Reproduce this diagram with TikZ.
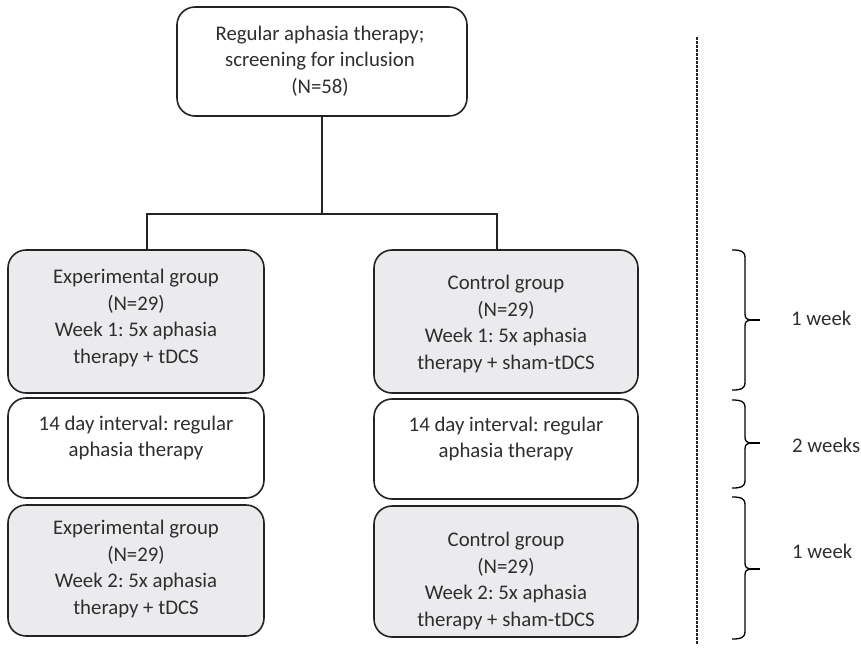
\documentclass[tikz,border=0pt]{standalone}
\usepackage{fontspec}
\setmainfont{Carlito}
\frenchspacing
\definecolor{boxgray}{RGB}{235,235,238}
\definecolor{linegray}{RGB}{35,35,35}
\begin{document}
\begin{tikzpicture}[x=1pt,y=-1pt,
  box/.style={draw=linegray,line width=1.6pt,rounded corners=18pt,minimum width=#1,inner sep=0pt},
  graybox/.style={box=#1,fill=boxgray},
  whitebox/.style={box=#1,fill=white},
  txt/.style={align=center,font=\fontsize{20.8}{26.5}\selectfont,inner sep=0pt,text=black!82},
  conn/.style={draw=linegray,line width=1.1pt},
  bracestyle/.style={draw=black,line width=1.3pt},
  lbl/.style={anchor=west,font=\fontsize{20.8}{24}\selectfont,inner sep=0pt,text=black!82}]
\useasboundingbox (0,0) rectangle (861,649);

% boxes
\node[whitebox=290pt,minimum height=109pt] (top) at (322,61.5) {};
\node[txt] (toptxt) at (320,61) {Regular aphasia therapy;\\screening for inclusion\\(N=58)};

\node[graybox=256pt,minimum height=143pt] (exp1) at (136,321.5) {};
\node[txt] (exp1txt) at (136,318) {Experimental group\\(N=29)\\Week 1: 5x aphasia\\therapy + tDCS};

\node[whitebox=256pt,minimum height=100pt] (int1) at (136,448) {};
\node[txt] (int1txt) at (136,438) {14 day interval: regular\\aphasia therapy};

\node[graybox=256pt,minimum height=131pt] (exp2) at (136,570.5) {};
\node[txt] (exp2txt) at (136,569) {Experimental group\\(N=29)\\Week 2: 5x aphasia\\therapy + tDCS};

\node[graybox=264pt,minimum height=143pt] (ctl1) at (506,321.5) {};
\node[txt] (ctl1txt) at (506,324) {Control group\\(N=29)\\Week 1: 5x aphasia\\therapy + sham-tDCS};

\node[whitebox=264pt,minimum height=100pt] (int2) at (506,449) {};
\node[txt] (int2txt) at (506,439) {14 day interval: regular\\aphasia therapy};

\node[graybox=264pt,minimum height=131pt] (ctl2) at (506,571.5) {};
\node[txt] (ctl2txt) at (506,581) {Control group\\(N=29)\\Week 2: 5x aphasia\\therapy + sham-tDCS};

% connectors
\coordinate (jl) at (147,214);
\coordinate (jr) at (497,214);
\draw[conn] (top.south) -- (top.south |- jl);
\draw[conn] (exp1.north -| jl) -- (jl) -- (jr) -- (ctl1.north -| jr);

% dashed separator
\coordinate (dtop) at (697,37);
\coordinate (dbot) at (697,645);
\draw[draw=black!85,line width=1.1pt,dash pattern=on 2.5pt off 1.5pt] (dtop) -- (dbot);

% braces
\foreach \t/\m/\b in {250/320/390, 400/443/488, 497/569/639}{
  \draw[bracestyle] (732,\t) .. controls (741,\t) and (745,\t+1) .. (745,\t+8)
     -- (745,\m-6) .. controls (745,\m-2) and (747,\m) .. (750,\m)
     .. controls (747,\m) and (745,\m+2) .. (745,\m+6)
     -- (745,\b-8) .. controls (745,\b-1) and (741,\b) .. (732,\b);
  \draw[bracestyle] (749,\m) -- (760,\m);
}

\node[lbl] (w1) at (791,318) {1 week};
\node[lbl] (w2) at (792,445) {2 weeks};
\node[lbl] (w3) at (792,551) {1 week};
\end{tikzpicture}
\end{document}
